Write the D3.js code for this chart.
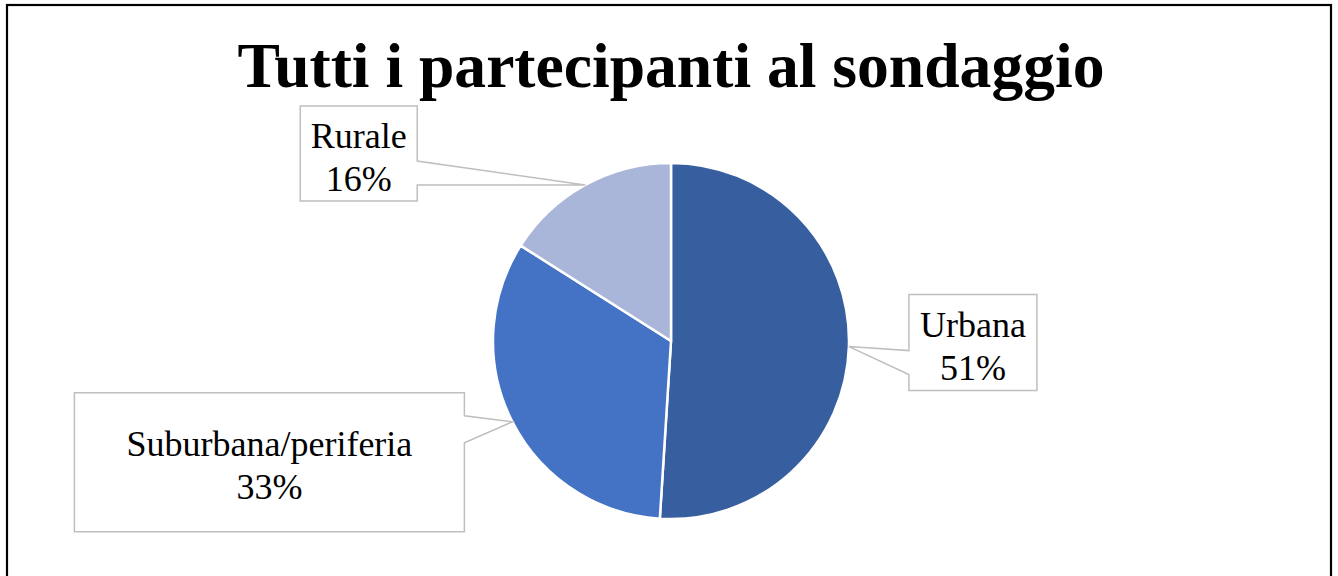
<!DOCTYPE html>
<html><head><meta charset="utf-8">
<script src="https://cdn.jsdelivr.net/npm/d3@7"></script>
<style>
html,body{margin:0;padding:0;background:#fff;}
svg{display:block;}
</style></head>
<body>
<svg id="c" width="1338" height="576"></svg>
<script>
const title = "Tutti i partecipanti al sondaggio";
const categories = ["Urbana", "Suburbana/periferia", "Rurale"];
const values = [51, 33, 16];
const colors = ["#375FA0", "#4473C5", "#A9B6DA"];

// label box layout (relative to arc anchor point)
const boxLayout = [
  {dx: 60, dy: -52, w: 128, h: 96, side: "left", p1: 56, p2: 80},
  {dx: -438, dy: -29, w: 390, h: 139, side: "right", p1: 23, p2: 50},
  {dx: -285, dy: -79, w: 117, h: 95, side: "right", p1: 55, p2: 79}
];

const svg = d3.select("#c");

// frame
svg.append("rect").attr("x", 7).attr("y", 5).attr("width", 1324).attr("height", 600)
  .attr("fill", "none").attr("stroke", "#000").attr("stroke-width", 2.2);

svg.append("text").attr("x", 671).attr("y", 87).attr("text-anchor", "middle")
  .attr("font-family", "'Liberation Serif', 'Times New Roman', serif")
  .attr("font-weight", "bold").attr("font-size", 63.6).attr("fill", "#000").text(title);

const cx = 671, cy = 341, r = 178;
const data = categories.map((c, i) => ({cat: c, v: values[i], color: colors[i], box: boxLayout[i]}));
const pie = d3.pie().value(d => d.v).sort(null);
const arcs = pie(data);
const arc = d3.arc().innerRadius(0).outerRadius(r);
const g = svg.append("g").attr("transform", `translate(${cx},${cy})`);
g.selectAll("path").data(arcs).join("path")
  .attr("d", arc).attr("fill", d => d.data.color)
  .attr("stroke", "#fff").attr("stroke-width", 2.5).attr("stroke-linejoin", "round");

const total = d3.sum(values);
arcs.forEach(a => {
  const mid = (a.startAngle + a.endAngle) / 2;
  const ax = cx + r * Math.sin(mid), ay = cy - r * Math.cos(mid);
  const b = a.data.box;
  const x0 = ax + b.dx, y0 = ay + b.dy, x1 = x0 + b.w, y1 = y0 + b.h;
  let p;
  if (b.side === "left") {
    p = [[x0, y0], [x1, y0], [x1, y1], [x0, y1], [x0, y0 + b.p2], [ax, ay], [x0, y0 + b.p1]];
  } else {
    p = [[x0, y0], [x1, y0], [x1, y0 + b.p1], [ax, ay], [x1, y0 + b.p2], [x1, y1], [x0, y1]];
  }
  svg.append("path").attr("d", "M" + p.map(q => q.join(",")).join("L") + "Z")
    .attr("fill", "#fff").attr("stroke", "#BFBFBF").attr("stroke-width", 1.5);
  const tcx = (x0 + x1) / 2, tcy = (y0 + y1) / 2;
  const t = svg.append("text").attr("text-anchor", "middle")
    .attr("font-family", "'Liberation Serif', 'Times New Roman', serif")
    .attr("font-size", 36).attr("fill", "#000");
  t.append("tspan").attr("x", tcx).attr("y", tcy - 6).text(a.data.cat);
  t.append("tspan").attr("x", tcx).attr("y", tcy + 37).text(Math.round(a.data.v / total * 100) + "%");
});
</script>
</body></html>
